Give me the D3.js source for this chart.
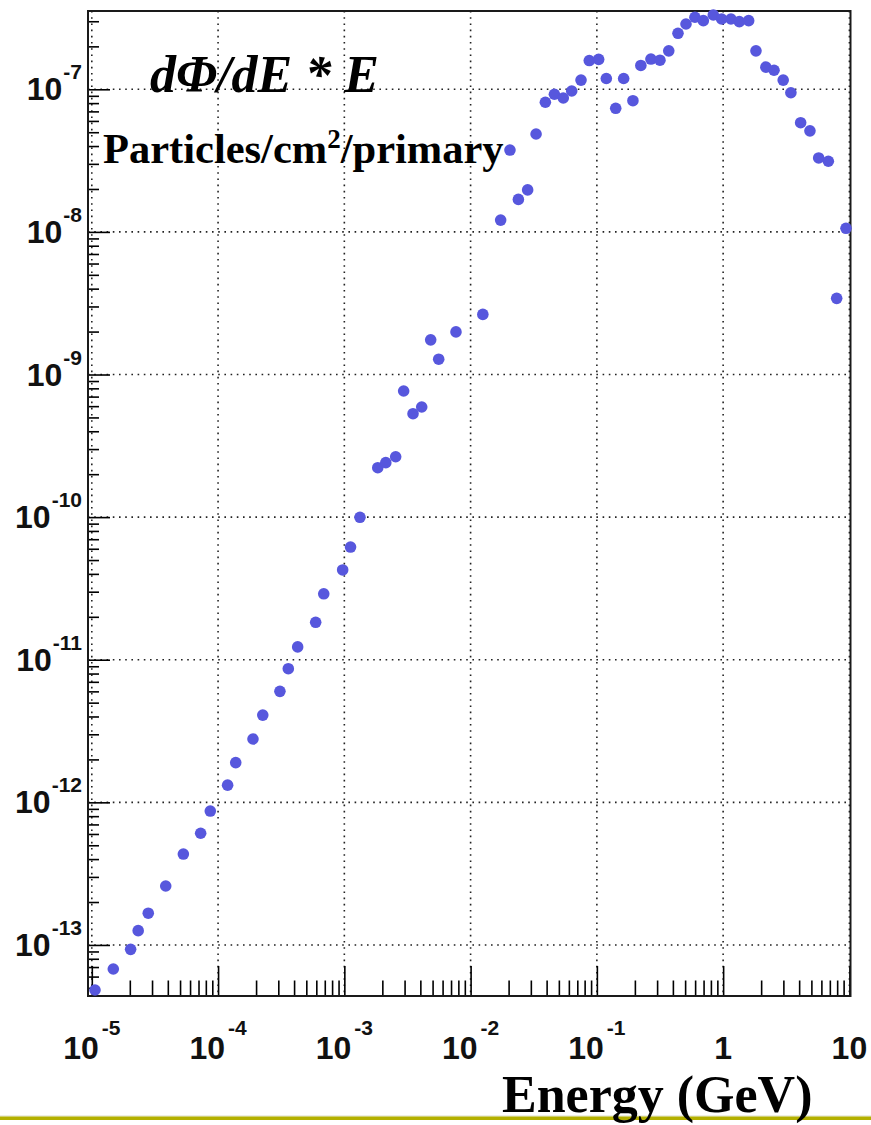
<!DOCTYPE html>
<html>
<head>
<meta charset="utf-8">
<script src="https://cdn.jsdelivr.net/npm/d3@7"></script>
<style>
  body { margin: 0; background: #fff; }
</style>
</head>
<body>
<svg id="chart" width="871" height="1125"></svg>
<script>
// energy in GeV, flux = dPhi/dE * E (particles/cm2/primary)
var energy = [1.06e-5, 1.48e-5, 2.03e-5, 2.33e-5, 2.80e-5, 3.85e-5, 5.31e-5, 7.28e-5, 8.68e-5,
  1.19e-4, 1.38e-4, 1.89e-4, 2.26e-4, 3.09e-4, 3.60e-4, 4.27e-4, 5.93e-4, 6.87e-4, 9.70e-4,
  1.12e-3, 1.33e-3, 1.84e-3, 2.13e-3, 2.55e-3, 2.95e-3, 3.50e-3, 4.10e-3, 4.83e-3, 5.59e-3, 7.66e-3,
  1.25e-2, 1.73e-2, 2.05e-2, 2.39e-2, 2.83e-2, 3.30e-2, 3.91e-2, 4.61e-2, 5.42e-2, 6.32e-2, 7.49e-2, 8.71e-2,
  0.1033, 0.1188, 0.141, 0.163, 0.193, 0.223, 0.268, 0.316, 0.371, 0.439, 0.508, 0.598, 0.697, 0.836, 0.973,
  1.153, 1.343, 1.593, 1.820, 2.18, 2.53, 2.99, 3.44, 4.11, 4.87, 5.71, 6.81, 7.93, 9.40];
var flux = [4.83e-14, 6.78e-14, 9.31e-14, 1.26e-13, 1.67e-13, 2.59e-13, 4.34e-13, 6.07e-13, 8.69e-13,
  1.32e-12, 1.90e-12, 2.78e-12, 4.09e-12, 6.00e-12, 8.65e-12, 1.23e-11, 1.83e-11, 2.90e-11, 4.26e-11,
  6.17e-11, 9.97e-11, 2.22e-10, 2.41e-10, 2.65e-10, 7.66e-10, 5.31e-10, 5.92e-10, 1.75e-9, 1.28e-9, 1.99e-9,
  2.64e-9, 1.21e-8, 3.75e-8, 1.69e-8, 1.97e-8, 4.86e-8, 8.11e-8, 9.23e-8, 8.69e-8, 9.73e-8, 1.16e-7, 1.59e-7,
  1.62e-7, 1.19e-7, 7.36e-8, 1.19e-7, 8.32e-8, 1.47e-7, 1.63e-7, 1.60e-7, 1.86e-7, 2.47e-7, 2.87e-7, 3.20e-7, 3.03e-7, 3.32e-7, 3.11e-7,
  3.11e-7, 2.98e-7, 3.03e-7, 1.86e-7, 1.43e-7, 1.36e-7, 1.16e-7, 9.46e-8, 5.83e-8, 5.11e-8, 3.30e-8, 3.13e-8, 3.42e-9, 1.06e-8];

var xDecades = [1e-5, 1e-4, 1e-3, 1e-2, 1e-1, 1, 10];
var xTickBase = ["10", "10", "10", "10", "10", "1", "10"];
var xTickExp = ["-5", "-4", "-3", "-2", "-1", "", ""];
var yDecades = [1e-13, 1e-12, 1e-11, 1e-10, 1e-9, 1e-8, 1e-7];
var yTickExp = ["-13", "-12", "-11", "-10", "-9", "-8", "-7"];

var titleText = "dΦ/dE * E";
var unitParts = ["Particles/cm", "2", "/primary"];
var xTitle = "Energy (GeV)";

var svg = d3.select("#chart");
var frame = {left: 88, right: 850.5, top: 11, bottom: 996};

var x = d3.scaleLog().domain([1e-5, 10]).range([91.8, 849.4]);
var y = d3.scaleLog().domain([Math.pow(10, -13.358), Math.pow(10, -6.451)]).range([frame.bottom, frame.top]);

function minors(scale) {
  var dom = scale.domain();
  var lo = Math.floor(Math.log10(dom[0])), hi = Math.ceil(Math.log10(dom[1]));
  var out = [];
  for (var e = lo; e < hi; e++) {
    for (var k = 2; k <= 9; k++) {
      var v = k * Math.pow(10, e);
      if (v >= dom[0] && v <= dom[1]) out.push(v);
    }
  }
  return out;
}

// dotted grid
var grid = svg.append("g").attr("stroke", "#222").attr("stroke-width", 1.6).attr("stroke-dasharray", "1.6,4.6");
grid.selectAll(".gx").data(xDecades).join("line")
  .attr("x1", d => x(d)).attr("x2", d => x(d))
  .attr("y1", frame.top).attr("y2", frame.bottom);
grid.selectAll(".gy").data(yDecades).join("line")
  .attr("x1", frame.left).attr("x2", frame.right)
  .attr("y1", d => y(d)).attr("y2", d => y(d));

// axes (ticks point inwards)
var gx = svg.append("g").attr("transform", "translate(0," + frame.bottom + ")");
gx.append("g").call(d3.axisBottom(x).tickValues(xDecades).tickSize(-30).tickFormat(""));
gx.append("g").call(d3.axisBottom(x).tickValues(minors(x)).tickSize(-15.5).tickFormat(""));

var gy = svg.append("g").attr("transform", "translate(" + frame.left + ",0)");
gy.append("g").call(d3.axisLeft(y).tickValues(yDecades).tickSize(-22).tickFormat(""));
gy.append("g").call(d3.axisLeft(y).tickValues(minors(y)).tickSize(-11).tickFormat(""));

svg.selectAll(".domain").remove();
svg.selectAll(".tick line").attr("stroke", "#000").attr("stroke-width", 1.6);

// frame
svg.append("rect")
  .attr("x", frame.left).attr("y", frame.top)
  .attr("width", frame.right - frame.left).attr("height", frame.bottom - frame.top)
  .attr("fill", "none").attr("stroke", "#1a1a1a").attr("stroke-width", 2);

// tick labels
svg.append("g").selectAll("text").data(xDecades).join("text")
  .attr("x", d => x(d)).attr("y", 1059)
  .attr("text-anchor", "middle")
  .attr("font-family", "'Liberation Sans', Arial, sans-serif")
  .attr("font-weight", "bold").attr("font-size", 32).attr("fill", "#111")
  .each(function(d, i) {
    var t = d3.select(this);
    t.append("tspan").text(xTickBase[i]);
    if (xTickExp[i]) t.append("tspan").attr("dx", 3).attr("dy", -24).attr("font-size", 21).text(xTickExp[i]);
  });

svg.append("g").selectAll("text").data(yDecades).join("text")
  .attr("x", 82).attr("y", d => y(d) + 11)
  .attr("text-anchor", "end")
  .attr("font-family", "'Liberation Sans', Arial, sans-serif")
  .attr("font-weight", "bold").attr("font-size", 32).attr("fill", "#111")
  .each(function(d, i) {
    var t = d3.select(this);
    t.append("tspan").text("10");
    t.append("tspan").attr("dx", 1).attr("dy", -21).attr("font-size", 21).text(yTickExp[i]);
  });

// titles
svg.append("text")
  .attr("x", 150).attr("y", 92)
  .attr("font-family", "'Liberation Serif', 'Times New Roman', serif")
  .attr("font-weight", "bold").attr("font-style", "italic").attr("font-size", 52)
  .text(titleText);

var unit = svg.append("text")
  .attr("x", 103).attr("y", 163)
  .attr("font-family", "'Liberation Serif', 'Times New Roman', serif")
  .attr("font-weight", "bold").attr("font-size", 42.5);
unit.append("tspan").text(unitParts[0]);
unit.append("tspan").attr("dy", -15).attr("font-size", 27).text(unitParts[1]);
unit.append("tspan").attr("dy", 15).text(unitParts[2]);

// slide rule at bottom
svg.append("rect").attr("x", 0).attr("y", 1115.5).attr("width", 871).attr("height", 1).attr("fill", "#ddddc8");
svg.append("rect").attr("x", 0).attr("y", 1116.5).attr("width", 871).attr("height", 3.5).attr("fill", "#b3b000");

svg.append("text")
  .attr("x", 502).attr("y", 1112)
  .attr("font-family", "'Liberation Serif', 'Times New Roman', serif")
  .attr("font-weight", "bold").attr("font-size", 52)
  .text(xTitle);

// data points
svg.append("g").selectAll("circle").data(energy).join("circle")
  .attr("cx", d => x(d))
  .attr("cy", (d, i) => y(flux[i]))
  .attr("r", 5.8)
  .attr("fill", "#5757dd");
</script>
</body>
</html>
